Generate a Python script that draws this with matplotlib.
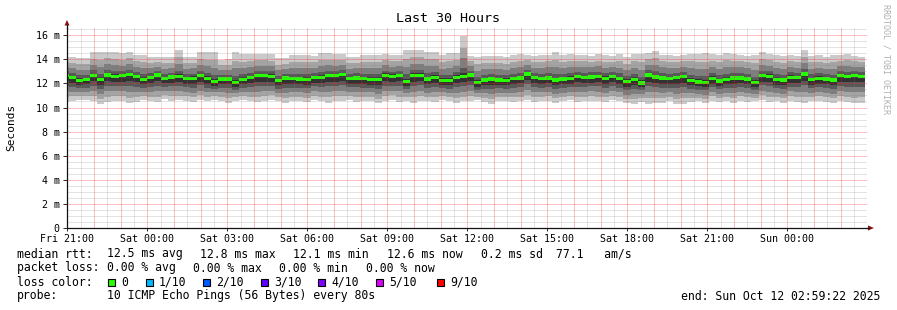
import datetime as dt
import matplotlib
matplotlib.use("Agg")
import matplotlib.pyplot as plt
import matplotlib.dates as mdates
from matplotlib.patches import Rectangle, Polygon
import numpy as np

W, H = 897, 310
end = dt.datetime(2025, 10, 12, 2, 59, 22)
start = end - dt.timedelta(hours=30)
step_min = 16          # one bar = 16 minutes (12 x 80s)
first_min = 4          # first bar is cut by the left edge

# median rtt per bar (ms)
median_ms = [
    12.67, 12.48, 12.25, 12.31, 12.64, 12.31, 12.70, 12.59, 12.62, 12.73,
    12.56, 12.31, 12.48, 12.70, 12.39, 12.53, 12.56, 12.39, 12.42, 12.62,
    12.39, 12.14, 12.36, 12.36, 12.09, 12.31, 12.48, 12.62, 12.62,
    12.59, 12.23, 12.45, 12.39, 12.36, 12.31, 12.48, 12.48, 12.64, 12.62,
    12.73, 12.39, 12.45, 12.39, 12.31, 12.31, 12.67, 12.59, 12.67, 12.17,
    12.67, 12.67, 12.36, 12.50, 12.23, 12.23, 12.48, 12.56,
    12.70, 12.06, 12.28, 12.36, 12.28, 12.23, 12.39, 12.45, 12.78, 12.48,
    12.39, 12.45, 12.28, 12.36, 12.39, 12.56, 12.48, 12.53, 12.56, 12.42,
    12.56, 12.39, 12.14, 12.31, 12.03, 12.70, 12.53, 12.45,
    12.39, 12.48, 12.56, 12.25, 12.12, 12.06, 12.42, 12.20, 12.33, 12.45,
    12.45, 12.36, 12.06, 12.62, 12.59, 12.31, 12.28, 12.50, 12.48, 12.78,
    12.31, 12.42, 12.36, 12.28, 12.62, 12.56, 12.62, 12.59,
]
# slowest ping per bar (ms)
top_ms = [
    14.2, 14.2, 14.1, 14.1, 14.6, 14.6, 14.6, 14.6, 14.5, 14.6,
    14.35, 14.35, 14.2, 14.2, 14.2, 14.2, 14.8, 14.2, 14.2, 14.6,
    14.6, 14.6, 13.95, 14.0, 14.6, 14.4, 14.4, 14.4, 14.4,
    14.4, 14.08, 14.08, 14.35, 14.35, 14.35, 14.3, 14.49, 14.49, 14.45,
    14.45, 14.2, 14.2, 14.35, 14.35, 14.35, 14.45, 14.35, 14.35, 14.77,
    14.77, 14.77, 14.63, 14.63, 14.35, 14.49, 14.49, 15.9,
    14.3, 14.2, 14.25, 14.25, 14.3, 14.2, 14.35, 14.45, 14.35, 14.3,
    14.35, 14.35, 14.57, 14.35, 14.45, 14.35, 14.35, 14.3, 14.4, 14.35,
    14.3, 14.4, 14.2, 14.45, 14.45, 14.55, 14.7, 14.35,
    14.35, 14.3, 14.35, 14.45, 14.45, 14.49, 14.45, 14.35, 14.55, 14.45,
    14.35, 14.3, 14.35, 14.57, 14.45, 14.35, 14.3, 14.35, 14.3, 14.77,
    14.3, 14.35, 14.2, 14.35, 14.35, 14.45, 14.3, 14.2,
]
# fastest ping per bar (ms)
bottom_ms = [
    10.45, 10.55, 10.6, 10.6, 10.55, 10.3, 10.45, 10.55, 10.5, 10.35,
    10.45, 10.6, 10.5, 10.45, 10.7, 10.55, 10.6, 10.55, 10.45, 10.6,
    10.5, 10.65, 10.55, 10.4, 10.55, 10.6, 10.5, 10.45, 10.55, 10.6,
    10.5, 10.35, 10.5, 10.55, 10.45, 10.6, 10.5, 10.4, 10.55, 10.5,
    10.6, 10.45, 10.5, 10.55, 10.35, 10.5, 10.6, 10.45, 10.5, 10.4,
    10.55, 10.5, 10.45, 10.6, 10.5, 10.4, 10.5, 10.55, 10.6, 10.45,
    10.25, 10.5, 10.55, 10.45, 10.5, 10.6, 10.45, 10.5, 10.55, 10.4,
    10.5, 10.6, 10.45, 10.5, 10.55, 10.5, 10.45, 10.6, 10.5, 10.35,
    10.3, 10.45, 10.3, 10.4, 10.35, 10.5, 10.25, 10.3, 10.45, 10.5,
    10.4, 10.55, 10.45, 10.5, 10.4, 10.55, 10.45, 10.5, 10.6, 10.45,
    10.5, 10.4, 10.55, 10.45, 10.35, 10.5, 10.55, 10.45, 10.4, 10.5,
    10.45, 10.35, 10.4,
]
# where the inner pings sit, as share of the median->max / median->min gap
upper_frac = [0.09, 0.22, 0.46, 0.72]
lower_frac = [0.23, 0.39, 0.60, 0.80]

smoke_cols = ["#cacaca", "#a4a4a4", "#7e7e7e", "#585858", "#323232"]
loss_labels = ["0", "1/10", "2/10", "3/10", "4/10", "5/10", "9/10"]
loss_cols = ["#26ff00", "#00b8ff", "#0059ff", "#5e00ff", "#7e00ff", "#dd00ff", "#ff0000"]
loss_x = [108, 146, 203, 261, 318, 376, 437]

med = np.array(median_ms)
top = np.array(top_ms)
bot = np.array(bottom_ms)
n = len(med)
assert len(top) == n and len(bot) == n

t0 = mdates.date2num(start)
t1 = mdates.date2num(end)
edge_min = np.array([0] + [first_min + step_min * k for k in range(n)])
edges = t0 + edge_min / 1440.0

# sorted pings p1..p10
up = [med + f * (top - med) for f in upper_frac]      # p6..p9
lo = [med - f * (med - bot) for f in lower_frac]      # p5..p2
highs = [top, up[3], up[2], up[1], up[0]]
lows = [bot, lo[3], lo[2], lo[1], lo[0]]

mono = "DejaVu Sans Mono"
plt.rcParams["font.family"] = mono

fig = plt.figure(figsize=(W / 100, H / 100), dpi=100)
fig.patch.set_facecolor("white")
L, R, B, T = 67, 867, 228, 28
ax = fig.add_axes([L / W, 1 - B / H, (R - L) / W, (B - T) / H])
ymax = (B - T) / 12.05
ax.set_xlim(t0, t1)
ax.set_ylim(0, ymax)

for hi, lw_, c in zip(highs, lows, smoke_cols):
    ax.stairs(hi, edges, baseline=lw_, fill=True, color=c, lw=0, zorder=1)
ax.stairs(med + 0.13, edges, baseline=med - 0.13, fill=True,
          color=loss_cols[0], lw=0, zorder=2)

# grid over the smoke, as rrdtool draws it; the 1px dotted look is
# approximated by thin, faint solid lines
major = dict(color="#ff2020", alpha=0.28, lw=0.72, zorder=3.5, snap=True)
minor = dict(color="#808080", alpha=0.22, lw=0.72, zorder=3, snap=True)
first_hour = dt.datetime(2025, 10, 10, 21, 0)
for k in range(0, 61):
    t = mdates.date2num(first_hour + dt.timedelta(minutes=30 * k))
    if t > t1:
        break
    ax.axvline(t, **(major if k % 2 == 0 else minor))
for v in np.arange(0.5, 16.7, 0.5):
    ax.axhline(v, **(major if v % 2 == 0 else minor))

yt = np.arange(0, 17, 2)
ax.set_yticks(yt)
ax.set_yticklabels(["0" if v == 0 else f"{v} m" for v in yt])
xt = [first_hour + dt.timedelta(hours=3 * k) for k in range(10)]
ax.set_xticks(mdates.date2num(xt))
ax.set_xticklabels([d.strftime("%a %H:%M") for d in xt])
ax.tick_params(axis="y", length=3, width=0.72, pad=2.2, labelsize=7.2, color="#333333")
ax.tick_params(axis="x", length=2, width=0.72, pad=2.5, labelsize=7.2, color="#333333")
for s in ("top", "right"):
    ax.spines[s].set_visible(False)
for s in ("left", "bottom"):
    ax.spines[s].set_linewidth(0.9)
    ax.spines[s].set_color("#111111")
    ax.spines[s].set_zorder(4)


def px(x, y):
    return (x / W, 1 - y / H)


# axis extensions and arrows
fig.add_artist(plt.Line2D([L / W, L / W], [1 - T / H, 1 - 25 / H], color="#111111", lw=0.9))
fig.add_artist(plt.Line2D([R / W, 869 / W], [1 - B / H, 1 - B / H], color="#111111", lw=0.9))
fig.add_artist(Polygon([px(64.5, 25.5), px(69.5, 25.5), px(67, 20)], closed=True,
                       transform=fig.transFigure, color="#8b1010", lw=0))
fig.add_artist(Polygon([px(868, 225.5), px(868, 230.5), px(874, 228)], closed=True,
                       transform=fig.transFigure, color="#8b1010", lw=0))

fs = 8.3
fig.text(*px(448, 19), "Last 30 Hours", ha="center", va="center", fontsize=9.6)
fig.text(*px(11, 127), "Seconds", ha="center", va="center", rotation=90, fontsize=8)
fig.text(*px(886, 59), "RRDTOOL / TOBI OETIKER", ha="center", va="center",
         rotation=270, fontsize=6, color="#b0b0b0")

rows = [254, 268, 282, 296]
fig.text(*px(16.7, rows[0]), "median rtt:", va="center", fontsize=fs)
for x, s in zip([107.3, 200, 293.3, 386.7, 480.5, 556],
                ["12.5 ms avg", "12.8 ms max", "12.1 ms min", "12.6 ms now",
                 "0.2 ms sd", "77.1   am/s"]):
    fig.text(*px(x, rows[0]), s, va="center", fontsize=fs)
fig.text(*px(16.7, rows[1]), "packet loss:", va="center", fontsize=fs)
for x, s in zip([107.3, 193.3, 279.3, 365.7],
                ["0.00 % avg", "0.00 % max", "0.00 % min", "0.00 % now"]):
    fig.text(*px(x, rows[1]), s, va="center", fontsize=fs)
fig.text(*px(16.7, rows[2]), "loss color:", va="center", fontsize=fs)
for x, c, s in zip(loss_x, loss_cols, loss_labels):
    fig.add_artist(Rectangle(px(x, rows[2] + 3.5), 7 / W, 7 / H, transform=fig.transFigure,
                             facecolor=c, edgecolor="black", lw=0.8))
    fig.text(*px(x + 13, rows[2]), s, va="center", fontsize=fs)
fig.text(*px(16.7, rows[3]), "probe:", va="center", fontsize=fs)
fig.text(*px(107.3, rows[3]), "10 ICMP Echo Pings (56 Bytes) every 80s", va="center", fontsize=fs)
fig.text(*px(880.5, rows[3]), "end: Sun Oct 12 02:59:22 2025", ha="right", va="center", fontsize=fs)

fig.savefig("out.png", dpi=100, facecolor="white")
